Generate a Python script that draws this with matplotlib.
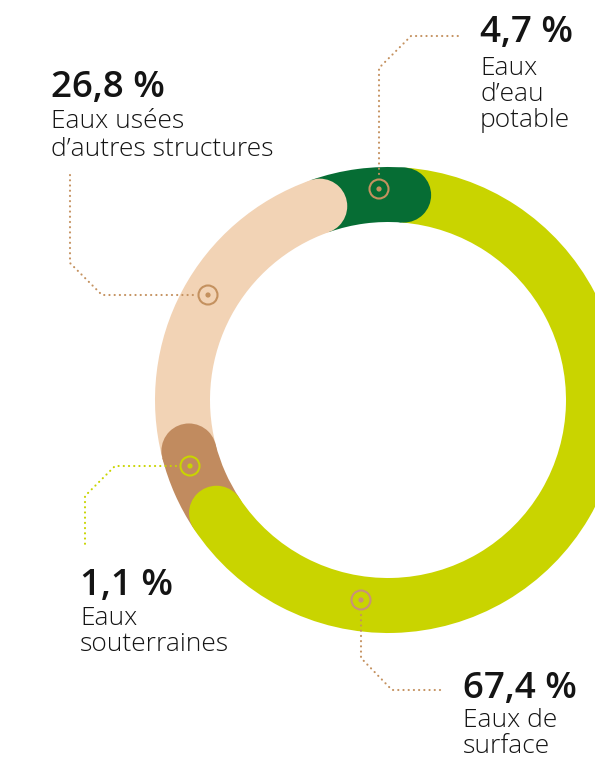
import math
import matplotlib
matplotlib.use("Agg")
import matplotlib.pyplot as plt
from matplotlib.patches import Wedge, Circle

# ---------------- data ----------------
categories = ["Eaux d’eau potable", "Eaux de surface", "Eaux souterraines",
              "Eaux usées d’autres structures"]
values = [4.7, 67.4, 1.1, 26.8]                 # percentages shown in labels
value_labels = ["4,7 %", "67,4 %", "1,1 %", "26,8 %"]
label_lines = [["Eaux", "d’eau", "potable"],
               ["Eaux de", "surface"],
               ["Eaux", "souterraines"],
               ["Eaux usées", "d’autres structures"]]
# arc shares as drawn in the picture (small slices are enlarged in the original)
drawn_share = [6.6, 64.5, 5.3, 23.6]

# ---------------- style ----------------
seg_colors = ["#066d34", "#c9d400", "#c18b5f", "#f2d3b5"]
marker_colors = ["#c4915f", "#c8917a", "#c9d400", "#c4915f"]
leader_colors = ["#c4915f", "#c4915f", "#c9d400", "#c4915f"]
text_color = "#141414"

W, H = 595, 758
fig = plt.figure(figsize=(W / 100, H / 100), dpi=100)
ax = fig.add_axes([0, 0, 1, 1])
ax.set_xlim(0, W)
ax.set_ylim(H, 0)
ax.set_aspect("equal")
ax.axis("off")

cx, cy = 388, 400
R_out, ring_w = 233, 55
r_mid = R_out - ring_w / 2
start_angle = -19.4  # degrees, clockwise from 12 o'clock


def pt(theta, r):
    t = math.radians(theta)
    return cx + r * math.sin(t), cy - r * math.cos(t)


total = sum(drawn_share)
theta = start_angle
ends = []
for share, col in zip(drawn_share, seg_colors):
    span = share / total * 360
    ax.add_patch(Wedge((cx, cy), R_out, theta - 90, theta + span - 90,
                       width=ring_w, facecolor=col, edgecolor="none",
                       zorder=1))
    theta += span
    ends.append((theta, col))
for th, col in ends:
    ax.add_patch(Circle(pt(th, r_mid), ring_w / 2, facecolor=col,
                        edgecolor="none", zorder=2))

# ---------------- markers & leaders (layout) ----------------
marker_pos = [(379, 189), (361, 600), (190, 466), (208, 295)]
leaders = [
    [(379, 174), (379, 68), (411, 36), (460, 36)],
    [(361, 615), (361, 658), (392, 690), (445, 690)],
    [(176, 466), (115, 466), (85, 496), (85, 546)],
    [(70, 175), (70, 263), (102, 295), (195, 295)],
]
for (mx, my), mc in zip(marker_pos, marker_colors):
    ax.add_patch(Circle((mx, my), 9.5, facecolor="none", edgecolor=mc,
                        lw=1.5, zorder=4))
    ax.add_patch(Circle((mx, my), 2.6, facecolor=mc, edgecolor="none",
                        zorder=4))
for path, lc in zip(leaders, leader_colors):
    xs, ys = zip(*path)
    ax.plot(xs, ys, color=lc, lw=1.5, linestyle=(0, (0.1, 2.4)),
            dash_capstyle="round", zorder=3)

# ---------------- texts ----------------
text_pos = [(480, 42), (463, 698), (80, 595), (51, 97)]
body_base = [[75, 101, 127], [727, 753], [625, 651], [128, 156]]
for (tx, ty), vl, lines, bases in zip(text_pos, value_labels, label_lines,
                                      body_base):
    ax.text(tx, ty, vl, fontsize=26.5, fontfamily="Open Sans",
            fontweight="semibold", color=text_color, ha="left",
            va="baseline")
    for ln, by in zip(lines, bases):
        ax.text(tx, by, ln, fontsize=19, fontfamily="Open Sans",
                fontweight="light", color=text_color, ha="left",
                va="baseline")

fig.savefig("out.png", dpi=100)
